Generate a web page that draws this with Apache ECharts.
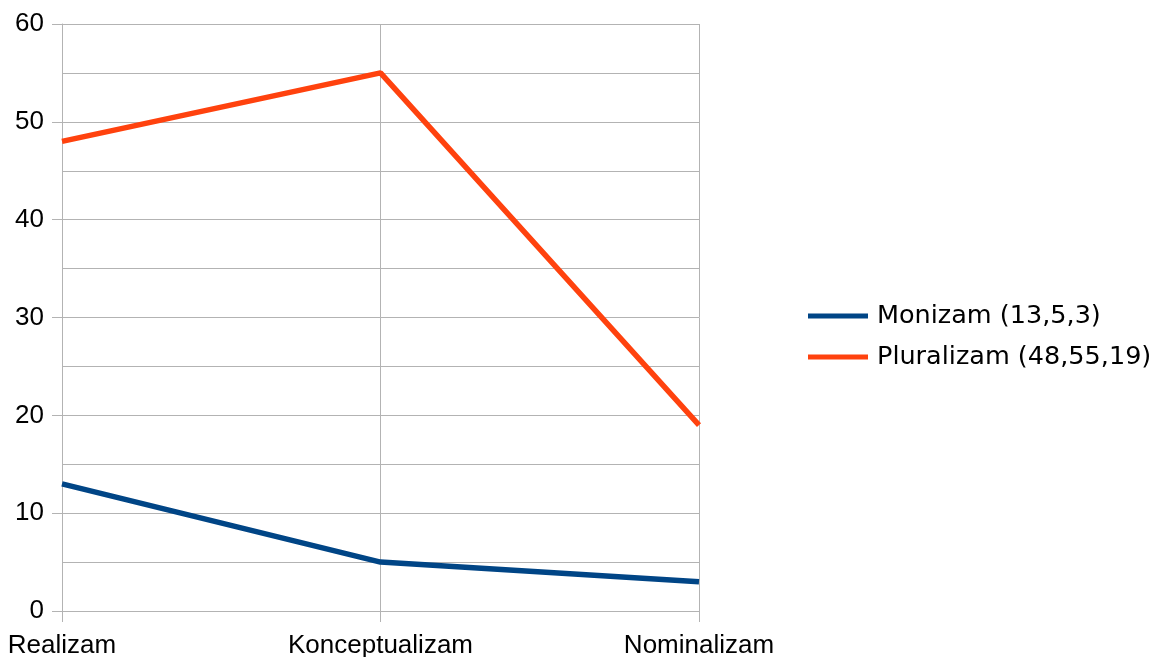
<!DOCTYPE html>
<html>
<head>
<meta charset="utf-8">
<script src="https://cdn.jsdelivr.net/npm/echarts@6/dist/echarts.min.js"></script>
<style>
html,body{margin:0;padding:0;background:#fff;}
#chart{width:1155px;height:657px;}
</style>
</head>
<body>
<div id="chart"></div>
<script>
var categories = ['Realizam', 'Konceptualizam', 'Nominalizam'];
var monizam = [13, 5, 3];
var pluralizam = [48, 55, 19];
var seriesNames = ['Monizam (13,5,3)', 'Pluralizam (48,55,19)'];

var chart = echarts.init(document.getElementById('chart'));
var grid = '#b3b3b3';
chart.setOption({
    animation: false,
    grid: {left: 62, top: 24, width: 637, height: 587, outerBoundsMode: 'none'},
    legend: {
        orient: 'vertical',
        left: 803,
        top: 298,
        icon: 'rect',
        itemWidth: 60,
        itemHeight: 5,
        itemGap: 15,
        textStyle: {fontFamily: 'DejaVu Sans', fontSize: 25.5, color: '#000', lineHeight: 26, padding: [0, 0, 0, 4]},
        data: seriesNames
    },
    xAxis: {
        type: 'category',
        data: categories,
        boundaryGap: false,
        axisLine: {lineStyle: {color: grid}},
        axisTick: {length: 11, lineStyle: {color: grid}},
        splitLine: {show: true, lineStyle: {color: grid}},
        axisLabel: {margin: 22, fontFamily: 'Liberation Sans', fontSize: 26, color: '#000'}
    },
    yAxis: {
        type: 'value',
        min: 0,
        max: 60,
        interval: 10,
        axisLine: {show: true, lineStyle: {color: grid}},
        axisTick: {show: true, length: 10, lineStyle: {color: grid}},
        splitLine: {lineStyle: {color: grid}},
        minorTick: {show: false, splitNumber: 2},
        minorSplitLine: {show: true, lineStyle: {color: grid}},
        axisLabel: {margin: 18, fontFamily: 'Liberation Sans', fontSize: 26, color: '#000'}
    },
    series: [
        {
            name: seriesNames[0],
            type: 'line',
            data: monizam,
            showSymbol: false,
            color: '#004586',
            lineStyle: {width: 5.5}
        },
        {
            name: seriesNames[1],
            type: 'line',
            data: pluralizam,
            showSymbol: false,
            color: '#ff420e',
            lineStyle: {width: 5.5}
        }
    ]
});
</script>
</body>
</html>
